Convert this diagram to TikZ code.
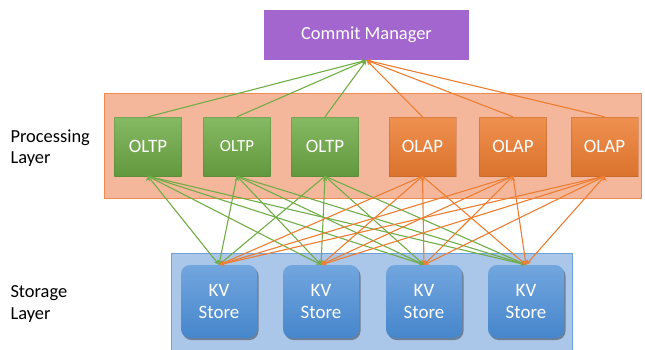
\documentclass[tikz,border=0pt]{standalone}
\usepackage{fontspec}
\setmainfont{Carlito}
\usetikzlibrary{arrows.meta,shadows}

\definecolor{cmpurple}{RGB}{163,102,206}
\definecolor{bandorange}{RGB}{245,183,155}
\definecolor{bandedge}{RGB}{241,140,80}
\definecolor{ltgreen}{RGB}{112,173,71}
\definecolor{laorange}{RGB}{237,125,49}
\definecolor{bandblue}{RGB}{170,198,232}
\definecolor{bandblueedge}{RGB}{110,160,220}
\definecolor{kvtop}{RGB}{114,166,222}
\definecolor{kvbottom}{RGB}{70,134,204}

\tikzset{
	layerlabel/.style={anchor=west, align=left, font=\fontsize{18.5}{21.5}\selectfont},
	procbox/.style={minimum width=67bp, minimum height=59bp, inner sep=0pt,
		text=white, font=\fontsize{19}{21}\selectfont},
	oltpbox/.style={procbox, top color=ltgreen!85!white, bottom color=ltgreen!88!black,
		draw=ltgreen!70!black, draw opacity=0.3},
	olapbox/.style={procbox, top color=laorange!85!white, bottom color=laorange!92!black,
		draw=laorange!70!black, draw opacity=0.3},
	kvbox/.style={minimum width=76bp, minimum height=73bp, inner sep=0pt, rounded corners=9bp,
		align=center, text=white, font=\fontsize{19}{22}\selectfont,
		top color=kvtop, bottom color=kvbottom,
		drop shadow={shadow xshift=1.5bp, shadow yshift=-2bp, opacity=0.35, fill=black}},
	tolt/.style={ltgreen, line width=1.1bp, -{Stealth[length=5bp,width=4.5bp]}},
	tolap/.style={laorange, line width=1.1bp, -{Stealth[length=5bp,width=4.5bp]}},
}

\begin{document}
\begin{tikzpicture}[x=1bp, y=-1bp]
	\useasboundingbox (0,0) rectangle (645,349);

	% layers
	\fill[bandorange] (104,93) rectangle (641,198);
	\draw[bandedge, line width=1bp] (104,93) rectangle (641,198);
	\fill[bandblue] (171,253) rectangle (572,352);
	\draw[bandblueedge, line width=1bp] (171,253) rectangle (572,352);

	\node[layerlabel] (proclabel) at (7,148) {Processing\\Layer};
	\node[layerlabel] (storelabel) at (7,304) {Storage\\Layer};

	% boxes
	\node [fill=cmpurple, minimum width=205bp, minimum height=50bp, inner sep=0pt,
		text=white, font=\fontsize{18.5}{21}\selectfont] at (366.5,35) (cm) {Commit Manager};

	\node [oltpbox] at (148,146.5) (lt1) {OLTP};
	\node [oltpbox, font=\fontsize{17}{19}\selectfont] at (237,146.5) (lt2) {OLTP};
	\node [oltpbox] at (325,146.5) (lt3) {OLTP};
	\node [olapbox] at (422.5,146.5) (la1) {OLAP};
	\node [olapbox] at (513,146.5) (la2) {OLAP};
	\node [olapbox] at (604.5,146.5) (la3) {OLAP};

	\node [kvbox] at (219,301.5) (kv1) {KV\\Store};
	\node [kvbox] at (321,301.5) (kv2) {KV\\Store};
	\node [kvbox] at (424,301.5) (kv3) {KV\\Store};
	\node [kvbox] at (526,301.5) (kv4) {KV\\Store};

	% to the commit manager
	\draw [tolt] (lt1.north) -- (cm.south);
	\draw [tolt] (lt2.north) -- (cm.south);
	\draw [tolt] (lt3.north) -- (cm.south);
	\draw [tolap] (la1.north) -- (cm.south);
	\draw [tolap] (la2.north) -- (cm.south);
	\draw [tolap] (la3.north) -- (cm.south);

	% to the stores
	\draw [tolt] (lt1.south) edge (kv1.north) edge (kv2.north) edge (kv3.north) edge (kv4.north);
	\draw [tolt] (lt2.south) edge (kv1.north) edge (kv2.north) edge (kv3.north) edge (kv4.north);
	\draw [tolt] (lt3.south) edge (kv1.north) edge (kv2.north) edge (kv3.north) edge (kv4.north);
	\draw [tolap] (la1.south) edge (kv1.north) edge (kv2.north) edge (kv3.north) edge (kv4.north);
	\draw [tolap] (la2.south) edge (kv1.north) edge (kv2.north) edge (kv3.north) edge (kv4.north);
	\draw [tolap] (la3.south) edge (kv1.north) edge (kv2.north) edge (kv3.north) edge (kv4.north);
\end{tikzpicture}
\end{document}
